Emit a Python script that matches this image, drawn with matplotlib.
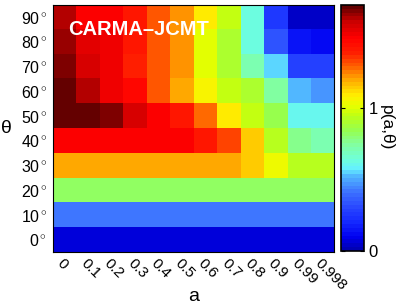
import numpy as np
import matplotlib
matplotlib.use("Agg")
import matplotlib.pyplot as plt
from matplotlib.colors import LinearSegmentedColormap

plt.rcParams['font.family'] = ['Liberation Sans', 'DejaVu Sans']
plt.rcParams['mathtext.fontset'] = 'custom'
plt.rcParams['mathtext.rm'] = 'Liberation Sans'
plt.rcParams['mathtext.it'] = 'Liberation Sans:italic'

a_labels = ["0", "0.1", "0.2", "0.3", "0.4", "0.5", "0.6", "0.7", "0.8", "0.9", "0.99", "0.998"]
theta_labels = ["0", "10", "20", "30", "40", "50", "60", "70", "80", "90"]

# p(a, theta): rows = theta (0..90), columns = a
p_theta0  = [0.08] * 12
p_theta10 = [0.42] * 12
p_theta20 = [0.83] * 12
p_theta30 = [1.20, 1.20, 1.20, 1.20, 1.20, 1.20, 1.20, 1.20, 1.13, 1.03, 0.93, 0.93]
p_theta40 = [1.50, 1.50, 1.50, 1.50, 1.50, 1.50, 1.40, 1.32, 1.13, 0.93, 0.76, 0.72]
p_theta50 = [1.72, 1.71, 1.67, 1.58, 1.50, 1.40, 1.27, 1.10, 0.96, 0.84, 0.60, 0.60]
p_theta60 = [1.72, 1.62, 1.51, 1.47, 1.29, 1.20, 1.05, 0.96, 0.90, 0.74, 0.52, 0.48]
p_theta70 = [1.68, 1.57, 1.51, 1.39, 1.30, 1.22, 1.01, 0.89, 0.72, 0.55, 0.29, 0.29]
p_theta80 = [1.66, 1.55, 1.51, 1.40, 1.31, 1.22, 1.01, 0.89, 0.64, 0.34, 0.15, 0.11]
p_theta90 = [1.62, 1.50, 1.50, 1.40, 1.31, 1.22, 1.10, 0.96, 0.62, 0.26, 0.03, 0.03]

P = np.array([p_theta0, p_theta10, p_theta20, p_theta30, p_theta40,
              p_theta50, p_theta60, p_theta70, p_theta80, p_theta90])

# colormap sampled from the reference colour bar (position, rgb)
cmap_stops = [
    (0.00, (0, 0, 180)), (0.05, (0, 0, 240)), (0.11, (20, 40, 255)),
    (0.17, (40, 70, 255)), (0.23, (60, 110, 255)), (0.30, (80, 180, 255)),
    (0.33, (100, 240, 255)), (0.37, (110, 255, 220)), (0.43, (130, 255, 160)),
    (0.49, (150, 255, 80)), (0.55, (190, 255, 20)), (0.59, (230, 255, 0)),
    (0.63, (255, 240, 0)), (0.69, (255, 180, 0)), (0.75, (255, 100, 0)),
    (0.81, (255, 30, 0)), (0.87, (255, 0, 0)), (0.94, (200, 0, 0)),
    (1.00, (100, 0, 0)),
]
cmap = LinearSegmentedColormap.from_list(
    "refjet", [(t, tuple(c / 255 for c in rgb)) for t, rgb in cmap_stops], N=64)

fig = plt.figure(figsize=(4.07, 3.06), dpi=100)
ax = fig.add_axes([0.130, 0.176, 0.691, 0.808])
cax = fig.add_axes([0.838, 0.180, 0.057, 0.804])

im = ax.imshow(P, cmap=cmap, vmin=0, vmax=1.72, origin='lower', aspect='auto',
               interpolation='nearest')

ax.set_xticks(np.arange(len(a_labels)))
ax.set_xticklabels(a_labels, rotation=-45, ha='left', va='top', rotation_mode='anchor', fontsize=11)
ax.set_yticks(np.arange(len(theta_labels)))
ax.set_yticklabels([t + r"$^\circ$" for t in theta_labels], fontsize=11.5)
ax.tick_params(direction='in', length=0, pad=4)
ax.tick_params(axis='x', pad=3)
ax.set_xlabel("a", fontsize=14, va='center')
ax.xaxis.set_label_coords(0.5, -0.18)
ax.set_ylabel("θ", fontsize=14, rotation=0, va='center', ha='center')
ax.yaxis.set_label_coords(-0.164, 0.5)

ax.text(0.053, 0.90, "CARMA–JCMT", transform=ax.transAxes, color='white',
        fontsize=14.5, fontweight='bold', ha='left', va='center')

cb = fig.colorbar(im, cax=cax, ticks=[0, 1])
cb.ax.tick_params(labelsize=12, direction='in', length=3, left=True, right=True, pad=3)
cb.set_label("p(a,θ)", rotation=270, fontsize=12.5, va='center')
cb.ax.yaxis.set_label_coords(1.95, 0.5)
cb.outline.set_linewidth(1.2)

fig.savefig("out.png", dpi=100)
